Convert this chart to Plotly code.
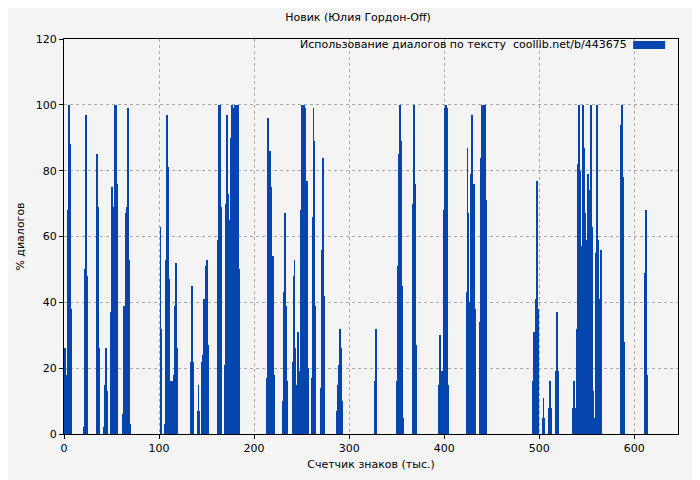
import plotly.graph_objects as go

# share of dialogue (%) per thousand characters, only non-zero points listed
starts = [0, 21, 34, 42, 49, 62, 101, 106, 133, 140, 145, 161, 169, 213, 230, 240,
          245, 260, 270, 287, 327, 350, 367, 394, 423, 437, 493, 503, 510, 517, 535,
          539, 585, 611]
runs = [
    [26, 26, 13, 18, 68, 100, 88, 38],
    [2, 50, 97, 48],
    [85, 69, 26],
    [2, 15, 26, 13],
    [37, 75, 57, 69, 100, 100, 76],
    [6, 39, 33, 67, 69, 99, 53, 3],
    [63, 32],
    [3, 53, 97, 81, 47, 16, 13, 16, 8, 18, 39, 52, 26],
    [22, 45, 22],
    [7, 15, 7],
    [22, 24, 41, 35, 51, 53, 27],
    [9, 59, 100, 100, 69],
    [21, 70, 97, 73, 65, 40, 90, 100, 99, 52, 100, 39, 89, 100, 100, 50],
    [17, 96, 70, 86, 75, 18, 54, 18, 6],
    [10, 43, 67, 39, 16],
    [22, 48, 53, 26],
    [15, 31, 15, 19, 68, 100, 99, 100, 99, 74, 77, 20],
    [17, 66, 99, 89, 39],
    [14, 56, 84, 42],
    [7, 15, 21, 32, 26, 10],
    [16, 32],
    [16, 51, 85, 100, 89, 45, 5],
    [70, 100, 76, 27],
    [15, 30, 19, 5, 19, 68, 99, 100, 99, 64, 15],
    [43, 87, 67, 24, 40, 79, 97, 61, 76, 38],
    [34, 84, 100, 100, 100, 100, 71, 21],
    [16, 31, 14, 41, 77, 38],
    [5, 11, 5],
    [8, 16, 8],
    [19, 37, 19],
    [8, 16, 8],
    [32, 82, 100, 80, 57, 27, 58, 100, 87, 67, 59, 40, 79, 74, 73, 100, 63, 13,
     5, 5, 55, 100, 59, 13, 41, 56, 28],
    [41, 94, 100, 78, 28],
    [49, 68, 18],
]

xs = []
ys = []
for s, r in zip(starts, runs):
    for i, v in enumerate(r):
        xs.append(s + i + 0.5)
        ys.append(v)

blue = '#0645ad'
fig = go.Figure()
fig.add_trace(go.Bar(x=xs, y=ys, width=1, marker=dict(color=blue, line_width=0),
                     showlegend=False))

axis = dict(showline=True, linecolor='black', linewidth=1, mirror=True,
            ticks='outside', ticklen=4, tickcolor='black',
            gridcolor='#a8a8a8', griddash='dot', zeroline=False,
            tickfont=dict(size=11))
fig.update_layout(
    width=700, height=480,
    paper_bgcolor='#f4f4f4', plot_bgcolor='#f4f4f4',
    font=dict(family='DejaVu Sans', size=11, color='black'),
    margin=dict(l=54, r=30, t=31, b=54),
    bargap=0,
    title=dict(text='Новик (Юлия Гордон-Off)', x=0.5, y=0.99, xanchor='center',
               font=dict(size=11)),
    xaxis=dict(axis, range=[0, 646], dtick=100,
               title=dict(text='Счетчик знаков (тыс.)', standoff=6, font=dict(size=11))),
    yaxis=dict(axis, range=[0, 120], dtick=20,
               title=dict(text='% диалогов', standoff=8, font=dict(size=11))),
)
fig.add_annotation(xref='paper', yref='paper', x=0.92, y=0.985, xanchor='right',
                   yanchor='middle', showarrow=False,
                   text='Использование диалогов по тексту  coollib.net/b/443675')
fig.add_shape(type='rect', xref='paper', yref='paper', x0=0.927, x1=0.979,
              y0=0.975, y1=0.995, fillcolor=blue, line_width=0)

fig.write_html('out.html')
